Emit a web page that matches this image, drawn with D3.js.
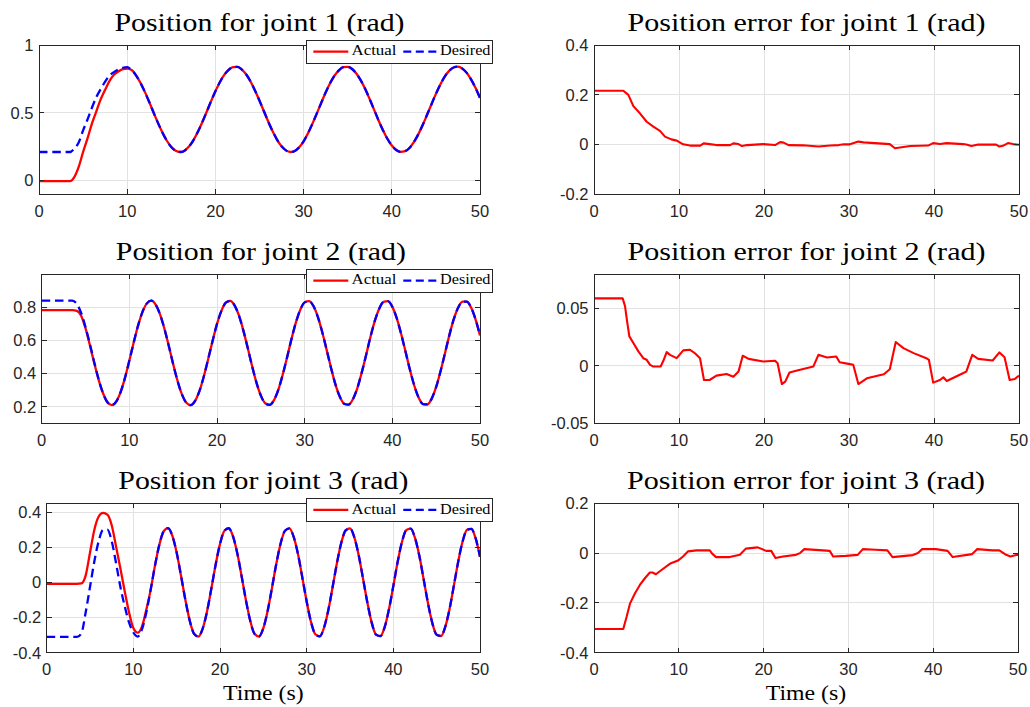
<!DOCTYPE html>
<html>
<head>
<meta charset="utf-8">
<script src="https://cdn.jsdelivr.net/npm/d3@7"></script>
<style>
  html, body { margin: 0; padding: 0; background: #ffffff; }
  svg { display: block; }
  .tick-label { font-family: "Liberation Sans", Arial, Helvetica, sans-serif; font-size: 16.5px; fill: #262626; }
  .title, .xlabel, .legend-text { font-family: "Liberation Serif", "Times New Roman", serif; fill: #000000; }
</style>
</head>
<body>
<svg id="fig" width="1030" height="707"></svg>
<script>
// Sample times (s) for the joint position traces
const time = [0,0.5,1,1.5,2,2.5,3,3.5,4,4.5,5,5.5,6,6.5,7,7.5,8,8.5,9,9.5,
  10,10.5,11,11.5,12,12.5,13,13.5,14,14.5,15,15.5,16,16.5,17,17.5,18,18.5,19,19.5,
  20,20.5,21,21.5,22,22.5,23,23.5,24,24.5,25,25.5,26,26.5,27,27.5,28,28.5,29,29.5,
  30,30.5,31,31.5,32,32.5,33,33.5,34,34.5,35,35.5,36,36.5,37,37.5,38,38.5,39,39.5,
  40,40.5,41,41.5,42,42.5,43,43.5,44,44.5,45,45.5,46,46.5,47,47.5,48,48.5,49,49.5,50];

// Joint 1 position (rad)
const desired1 = [0.21,0.21,0.21,0.21,0.21,0.21,0.21,0.21,
  0.235,0.28,0.37,0.45,0.537,0.615,0.675,0.73,0.775,0.80,0.82,0.832,
  0.836,0.815,0.776,0.721,0.654,0.579,0.500,0.423,0.353,0.293,
  0.247,0.219,0.210,0.220,0.250,0.296,0.357,0.428,0.505,0.584,
  0.658,0.725,0.779,0.817,0.837,0.838,0.819,0.782,0.729,0.663,
  0.589,0.511,0.433,0.362,0.300,0.252,0.222,0.210,0.218,0.245,
  0.289,0.348,0.419,0.495,0.573,0.649,0.717,0.773,0.813,0.836,
  0.839,0.823,0.788,0.737,0.673,0.599,0.521,0.443,0.371,0.308,
  0.258,0.225,0.211,0.216,0.240,0.283,0.340,0.409,0.485,0.563,
  0.639,0.708,0.766,0.809,0.834,0.840,0.826,0.794,0.744,0.682,
  0.609];
const actual1 = [-0.005,-0.005,-0.005,-0.005,-0.005,-0.005,-0.005,-0.005,
  0.025,0.10,0.21,0.31,0.42,0.51,0.60,0.67,0.735,0.78,0.805,0.822,
  0.826,0.815,0.776,0.721,0.654,0.579,0.500,0.423,0.353,0.293,
  0.247,0.219,0.210,0.220,0.250,0.296,0.357,0.428,0.505,0.584,
  0.658,0.725,0.779,0.817,0.837,0.838,0.819,0.782,0.729,0.663,
  0.589,0.511,0.433,0.362,0.300,0.252,0.222,0.210,0.218,0.245,
  0.289,0.348,0.419,0.495,0.573,0.649,0.717,0.773,0.813,0.836,
  0.839,0.823,0.788,0.737,0.673,0.599,0.521,0.443,0.371,0.308,
  0.258,0.225,0.211,0.216,0.240,0.283,0.340,0.409,0.485,0.563,
  0.639,0.708,0.766,0.809,0.834,0.840,0.826,0.794,0.744,0.682,
  0.609];

// Joint 2 position (rad)
const desired2 = [0.840,0.840,0.840,0.840,0.840,0.840,0.840,0.840,
  0.820,0.765,0.680,0.577,0.467,0.364,0.281,0.227,0.210,0.231,
  0.288,0.374,0.478,0.588,0.690,0.772,0.823,0.839,0.816,0.757,
  0.670,0.566,0.456,0.355,0.274,0.224,0.210,0.235,0.295,0.384,
  0.489,0.598,0.699,0.778,0.827,0.838,0.811,0.750,0.660,0.555,
  0.445,0.345,0.267,0.221,0.211,0.240,0.303,0.394,0.499,0.609,
  0.708,0.785,0.829,0.837,0.807,0.742,0.650,0.544,0.435,0.336,
  0.261,0.218,0.212,0.245,0.311,0.404,0.510,0.620,0.717,0.791,
  0.832,0.836,0.802,0.734,0.640,0.533,0.424,0.328,0.255,0.216,
  0.214,0.250,0.319,0.414,0.521,0.630,0.726,0.796,0.834,0.834,
  0.796,0.725,0.630];
const actual2 = [0.782,0.782,0.782,0.782,0.782,0.782,0.782,0.782,
  0.778,0.748,0.672,0.570,0.462,0.362,0.281,0.227,0.210,0.231,
  0.288,0.374,0.478,0.588,0.690,0.772,0.823,0.839,0.816,0.757,
  0.670,0.566,0.456,0.355,0.274,0.224,0.210,0.235,0.295,0.384,
  0.489,0.598,0.699,0.778,0.827,0.838,0.811,0.750,0.660,0.555,
  0.445,0.345,0.267,0.221,0.211,0.240,0.303,0.394,0.499,0.609,
  0.708,0.785,0.829,0.837,0.807,0.742,0.650,0.544,0.435,0.336,
  0.261,0.218,0.212,0.245,0.311,0.404,0.510,0.620,0.717,0.791,
  0.832,0.836,0.802,0.734,0.640,0.533,0.424,0.328,0.255,0.216,
  0.214,0.250,0.319,0.414,0.521,0.630,0.726,0.796,0.834,0.834,
  0.796,0.725,0.630];

// Joint 3 position (rad)
const desired3 = [-0.31,-0.31,-0.31,-0.31,-0.31,-0.31,-0.31,-0.31,
  -0.29,-0.17,-0.025,0.12,0.235,0.298,0.30,0.235,0.11,-0.025,-0.135,-0.228,-0.285,-0.308,
  -0.266,-0.170,-0.041,0.097,0.215,0.291,0.309,0.265,0.169,0.038,
  -0.099,-0.217,-0.292,-0.308,-0.263,-0.166,-0.035,0.102,0.219,0.293,
  0.308,0.262,0.164,0.033,-0.104,-0.221,-0.294,-0.308,-0.260,-0.161,
  -0.030,0.107,0.223,0.294,0.307,0.259,0.160,0.027,-0.109,-0.225,
  -0.295,-0.307,-0.258,-0.157,-0.025,0.112,0.227,0.296,0.307,0.256,
  0.155,0.022,-0.114,-0.228,-0.297,-0.306,-0.255,-0.152,-0.020,0.117,
  0.231,0.298,0.306,0.253,0.151,0.017,-0.119,-0.232,-0.298,-0.305,
  -0.251,-0.148,-0.014,0.122,0.234,0.299,0.305,0.250,0.146];
const actual3 = [-0.008,-0.008,-0.008,-0.008,-0.008,-0.008,-0.008,-0.008,
  -0.006,0.04,0.17,0.30,0.375,0.395,0.385,0.325,0.205,0.08,-0.05,-0.17,-0.26,-0.286,-0.25,-0.155,
  -0.041,0.097,0.215,0.291,0.309,0.265,0.169,0.038,
  -0.099,-0.217,-0.292,-0.308,-0.263,-0.166,-0.035,0.102,0.219,0.293,
  0.308,0.262,0.164,0.033,-0.104,-0.221,-0.294,-0.308,-0.260,-0.161,
  -0.030,0.107,0.223,0.294,0.307,0.259,0.160,0.027,-0.109,-0.225,
  -0.295,-0.307,-0.258,-0.157,-0.025,0.112,0.227,0.296,0.307,0.256,
  0.155,0.022,-0.114,-0.228,-0.297,-0.306,-0.255,-0.152,-0.020,0.117,
  0.231,0.298,0.306,0.253,0.151,0.017,-0.119,-0.232,-0.298,-0.305,
  -0.251,-0.148,-0.014,0.122,0.234,0.299,0.305,0.250,0.146];

// Position error traces (rad): sample times and values
const err1Time = [0,3.45,4.04,4.63,5.4,6.2,6.98,7.76,8.35,9.1,9.73,10.5,11.3,12.5,12.9,13.6,14.4,16.0,16.4,17.0,
  17.4,18.0,19.9,21.3,21.9,22.3,22.9,24.6,26.4,27.8,28.8,29.4,30.1,31.1,31.7,34.8,35.4,36.0,37.2,39.3,
  39.9,40.7,41.5,43.4,43.8,44.4,45.2,47.3,47.7,48.1,48.7,49.3,50];
const err1 = [0.216,0.216,0.199,0.154,0.125,0.091,0.071,0.054,0.031,0.020,0.015,0.0,-0.005,-0.005,0.004,0.001,-0.003,-0.003,0.004,0.001,
  -0.007,-0.003,0.001,-0.003,0.009,0.007,-0.003,-0.004,-0.009,-0.005,-0.003,0,0,0.011,0.008,0.001,-0.016,-0.013,-0.007,-0.005,
  0.005,0.001,0.005,0.001,-0.001,-0.007,-0.001,-0.001,-0.009,-0.006,0.005,0.001,-0.002];

const err2Time = [0,3.37,3.65,3.92,4.16,4.63,5.22,5.8,6.2,6.6,6.98,7.84,8.16,8.55,8.94,9.73,10.5,11.3,11.88,12.47,
  12.94,13.6,14.4,15.6,16.4,17.0,17.5,18.2,19.9,21.3,21.6,22.1,22.5,23.0,23.9,25.8,26.4,27.4,28.5,28.9,
  30.1,30.5,31.1,32.1,34.1,34.8,35.5,36.4,37.6,39.1,39.4,39.9,40.7,41.1,41.5,43.4,43.8,44.5,45.2,46.9,
  47.7,48.3,48.9,49.5,50];
const err2 = [0.0588,0.0588,0.052,0.0374,0.0257,0.0199,0.0126,0.0067,0.0053,0.0009,-0.0006,-0.0006,0.0044,0.012,0.0096,0.0067,0.0135,0.014,0.011,0.0067,
  -0.0123,-0.0123,-0.0085,-0.007,-0.0094,-0.005,0.0088,0.0061,0.0038,0.0044,0.0023,-0.0158,-0.0137,-0.0058,-0.0041,-0.0006,0.0096,0.0073,0.0082,0.0032,
  0.0015,0.0009,-0.0158,-0.0108,-0.0073,-0.0029,0.0208,0.0155,0.0111,0.0067,0.0053,-0.0146,-0.0123,-0.0099,-0.0132,-0.0064,-0.005,0.0096,0.0061,0.0047,
  0.0117,0.0076,-0.0123,-0.0114,-0.0085];

const err3Time = [0,3.45,3.84,4.24,4.82,5.41,6.0,6.59,6.9,7.3,7.96,8.94,9.9,10.5,11.1,12.08,13.65,13.96,14.4,16.0,
  17.2,17.9,19.3,20.3,20.9,21.4,22.3,23.8,24.3,24.8,27.0,27.8,28.2,29.7,31.1,31.7,33.2,34.6,35.2,37.6,
  38.2,38.7,40.3,41.7,42.3,44.6,45.2,47.0,47.8,48.6,49.1,49.9,50];
const err3 = [-0.305,-0.305,-0.257,-0.203,-0.162,-0.128,-0.101,-0.078,-0.078,-0.085,-0.068,-0.043,-0.030,-0.0135,0.007,0.011,0.011,-0.003,-0.016,-0.016,
  -0.007,0.018,0.023,0.009,0.009,-0.02,-0.0135,-0.007,0,0.016,0.011,0.009,-0.0135,-0.011,-0.007,0.016,0.0135,0.011,-0.016,-0.008,
  0,0.016,0.016,0.009,-0.016,-0.004,0.016,0.011,0.011,-0.007,-0.0135,-0.007,-0.007];

// Axis ticks and texts
const xTicks = [0,10,20,30,40,50];
const yTicksPos1 = [0,0.5,1];
const yTicksPos2 = [0.2,0.4,0.6,0.8];
const yTicksPos3 = [-0.4,-0.2,0,0.2,0.4];
const yTicksErr1 = [-0.2,0,0.2,0.4];
const yTicksErr2 = [-0.05,0,0.05];
const yTicksErr3 = [-0.4,-0.2,0,0.2];
const titles = ["Position for joint 1 (rad)","Position error for joint 1 (rad)",
                "Position for joint 2 (rad)","Position error for joint 2 (rad)",
                "Position for joint 3 (rad)","Position error for joint 3 (rad)"];
const legendLabels = ["Actual","Desired"];
const xLabelText = "Time (s)";

// ---------------------------------------------------------------
const AXIS = "#262626", GRID = "#e2e2e2", RED = "#ff0000", BLUE = "#0000ff";
const svg = d3.select("#fig");

const panels = [
  { box:[39,480,45,194],      y:[-0.1,1],     yt:yTicksPos1, title:titles[0], legend:true,
    lines:[{t:time,v:actual1,s:"a"},{t:time,v:desired1,s:"d"}] },
  { box:[594,1019,45,194],    y:[-0.2,0.4],   yt:yTicksErr1, title:titles[1],
    lines:[{t:err1Time,v:err1,s:"e"}] },
  { box:[41.7,480,274,423.3], y:[0.1,1.0],    yt:yTicksPos2, title:titles[2], legend:true,
    lines:[{t:time,v:actual2,s:"a"},{t:time,v:desired2,s:"d"}] },
  { box:[594,1019,274,423.3], y:[-0.05,0.08], yt:yTicksErr2, title:titles[3],
    lines:[{t:err2Time,v:err2,s:"e"}] },
  { box:[46.7,480,503.3,652.7], y:[-0.4,0.45], yt:yTicksPos3, title:titles[4], legend:true, xlabel:true,
    lines:[{t:time,v:actual3,s:"a"},{t:time,v:desired3,s:"d"}] },
  { box:[594,1018,503.3,652.7], y:[-0.4,0.2], yt:yTicksErr3, title:titles[5], xlabel:true,
    lines:[{t:err3Time,v:err3,s:"e"}] }
];

const fmt = d => String(d);

panels.forEach((p, i) => {
  const [x0, x1, y0, y1] = p.box;
  const x = d3.scaleLinear().domain([0, 50]).range([x0, x1]);
  const y = d3.scaleLinear().domain(p.y).range([y1, y0]);
  const g = svg.append("g");
  const w = x1 - x0, h = y1 - y0;

  // white plotting area
  g.append("rect").attr("x", x0).attr("y", y0).attr("width", w).attr("height", h).attr("fill", "#fff");

  // grid
  g.append("g").selectAll("line").data(xTicks).join("line")
    .attr("x1", d => x(d)).attr("x2", d => x(d)).attr("y1", y0).attr("y2", y1)
    .attr("stroke", GRID).attr("stroke-width", 1).attr("shape-rendering", "crispEdges");
  g.append("g").selectAll("line").data(p.yt).join("line")
    .attr("x1", x0).attr("x2", x1).attr("y1", d => y(d)).attr("y2", d => y(d))
    .attr("stroke", GRID).attr("stroke-width", 1).attr("shape-rendering", "crispEdges");

  // data lines
  const clipId = "clip" + i;
  svg.append("defs").append("clipPath").attr("id", clipId)
    .append("rect").attr("x", x0).attr("y", y0 - 1).attr("width", w).attr("height", h + 2);
  const dg = g.append("g").attr("clip-path", `url(#${clipId})`);
  p.lines.forEach(L => {
    const pts = L.t.map((t, k) => [t, L.v[k]]);
    const line = d3.line().x(d => x(d[0])).y(d => y(d[1]))
      .curve(L.s === "e" ? d3.curveLinear : d3.curveMonotoneX);
    const path = dg.append("path").datum(pts).attr("d", line)
      .attr("fill", "none").attr("stroke-linejoin", "round");
    if (L.s === "a") path.attr("stroke", RED).attr("stroke-width", 2.3);
    else if (L.s === "d") path.attr("stroke", BLUE).attr("stroke-width", 2.3).attr("stroke-dasharray", "8.5,4.8");
    else path.attr("stroke", RED).attr("stroke-width", 2.1);
  });

  // axes box
  g.append("rect").attr("x", x0).attr("y", y0).attr("width", w).attr("height", h)
    .attr("fill", "none").attr("stroke", AXIS).attr("stroke-width", 1).attr("shape-rendering", "crispEdges");

  // inward ticks on all four sides
  const TL = 5;
  const tk = g.append("g").attr("stroke", AXIS).attr("stroke-width", 1).attr("shape-rendering", "crispEdges");
  xTicks.forEach(d => {
    tk.append("line").attr("x1", x(d)).attr("x2", x(d)).attr("y1", y1).attr("y2", y1 - TL);
    tk.append("line").attr("x1", x(d)).attr("x2", x(d)).attr("y1", y0).attr("y2", y0 + TL);
  });
  p.yt.forEach(d => {
    tk.append("line").attr("x1", x0).attr("x2", x0 + TL).attr("y1", y(d)).attr("y2", y(d));
    tk.append("line").attr("x1", x1).attr("x2", x1 - TL).attr("y1", y(d)).attr("y2", y(d));
  });

  // tick labels
  g.append("g").selectAll("text").data(xTicks).join("text")
    .attr("class", "tick-label").attr("x", d => x(d)).attr("y", y1 + 22.5)
    .attr("text-anchor", "middle").text(fmt);
  g.append("g").selectAll("text").data(p.yt).join("text")
    .attr("class", "tick-label").attr("x", x0 - 5.5).attr("y", d => y(d)).attr("dy", "0.36em")
    .attr("text-anchor", "end").text(fmt);

  // title
  const titleLen = p.title.indexOf("error") >= 0 ? 358 : 290;
  g.append("text").attr("class", "title")
    .attr("x", (x0 + x1) / 2).attr("y", y0 - 14.3)
    .attr("text-anchor", "middle").attr("font-size", "25.5px")
    .attr("textLength", titleLen).attr("lengthAdjust", "spacingAndGlyphs")
    .text(p.title);

  if (p.xlabel) {
    g.append("text").attr("class", "xlabel")
      .attr("x", (x0 + x1) / 2).attr("y", 699.5)
      .attr("text-anchor", "middle").attr("font-size", "22px")
      .attr("textLength", 80.5).attr("lengthAdjust", "spacingAndGlyphs")
      .text(xLabelText);
  }

  // legend
  if (p.legend) {
    const lx = x1 - 174, ly = y0 - 4.8, lw = 186.7, lh = 23.4;
    const lg = g.append("g");
    lg.append("rect").attr("x", lx).attr("y", ly).attr("width", lw).attr("height", lh)
      .attr("fill", "#fff").attr("stroke", AXIS).attr("stroke-width", 1).attr("shape-rendering", "crispEdges");
    const my = ly + 11.4;
    lg.append("line").attr("x1", lx + 7.3).attr("x2", lx + 42.3).attr("y1", my).attr("y2", my)
      .attr("stroke", RED).attr("stroke-width", 2.3);
    lg.append("text").attr("class", "legend-text").attr("x", lx + 45.5).attr("y", ly + 15.2)
      .attr("font-size", "15px").attr("textLength", 45).attr("lengthAdjust", "spacingAndGlyphs")
      .text(legendLabels[0]);
    lg.append("line").attr("x1", lx + 97.3).attr("x2", lx + 130.7).attr("y1", my).attr("y2", my)
      .attr("stroke", BLUE).attr("stroke-width", 2.3).attr("stroke-dasharray", "8,4.5");
    lg.append("text").attr("class", "legend-text").attr("x", lx + 134).attr("y", ly + 15.2)
      .attr("font-size", "15px").attr("textLength", 50.5).attr("lengthAdjust", "spacingAndGlyphs")
      .text(legendLabels[1]);
  }
});
</script>
</body>
</html>
